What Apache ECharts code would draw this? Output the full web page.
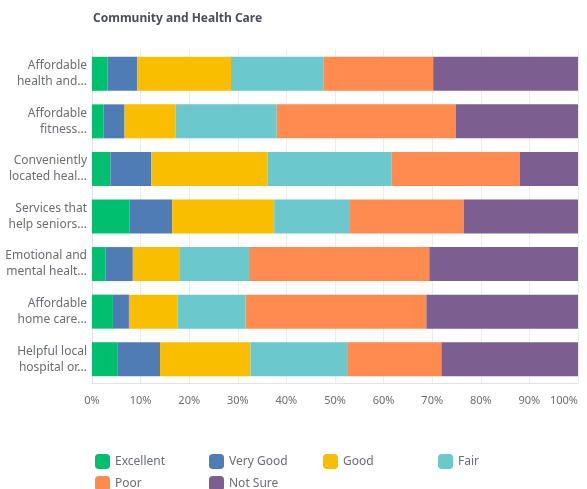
<!DOCTYPE html>
<html>
<head>
<meta charset="utf-8">
<script src="https://cdn.jsdelivr.net/npm/echarts@6/dist/echarts.min.js"></script>
<style>
  html, body { margin: 0; padding: 0; background: #fff; }
  #chart { width: 587px; height: 489px; }
</style>
</head>
<body>
<div id="chart"></div>
<script>
const categories = [
  'Affordable\nhealth and...',
  'Affordable\nfitness...',
  'Conveniently\nlocated heal...',
  'Services that\nhelp seniors...',
  'Emotional and\nmental healt...',
  'Affordable\nhome care...',
  'Helpful local\nhospital or...'
];
const seriesNames = ['Excellent', 'Very Good', 'Good', 'Fair', 'Poor', 'Not Sure'];
const excellent = [3.2, 2.4, 3.8, 7.7, 2.8, 4.3, 5.2];
const veryGood = [6.1, 4.3, 8.4, 8.8, 5.6, 3.3, 8.8];
const good = [19.3, 10.5, 23.9, 21.0, 9.7, 10.0, 18.6];
const fair = [19.0, 20.8, 25.5, 15.6, 14.2, 14.0, 19.9];
const poor = [22.6, 36.9, 26.4, 23.4, 37.1, 37.2, 19.4];
const notSure = [29.8, 25.1, 12.0, 23.5, 30.6, 31.2, 28.1];
const colors = ['#00bf6f', '#507cb6', '#f9be00', '#6bc8cd', '#ff8b4f', '#7d5e90'];

const values = [excellent, veryGood, good, fair, poor, notSure];
const font = '"Noto Sans", sans-serif';

// legend laid out as a 4-column grid, one legend per item
const legendPos = [
  [90, 449], [204, 449], [318, 449], [433, 449],
  [90, 471], [204, 471]
];

const chart = echarts.init(document.getElementById('chart'));

const option = {
  animation: false,
  textStyle: { fontFamily: font },
  title: {
    text: 'Community and Health Care',
    left: 88,
    top: 8,
    textStyle: { fontSize: 12, fontWeight: 'bold', color: '#4b4f54', fontFamily: font }
  },
  grid: { left: 92, right: 9, top: 50, bottom: 106, outerBoundsMode: 'none' },
  legend: seriesNames.map((name, i) => ({
    data: [name],
    left: legendPos[i][0],
    top: legendPos[i][1],
    itemWidth: 15,
    itemHeight: 15,
    itemGap: 6,
    icon: 'roundRect',
    textStyle: { fontSize: 12, color: '#6b6e72', fontFamily: font }
  })),
  xAxis: {
    type: 'value',
    min: 0,
    max: 100,
    interval: 10,
    axisLine: { show: true, lineStyle: { color: '#e3e3e3' } },
    axisTick: { show: false },
    axisLabel: {
      formatter: '{value}%',
      color: '#6b6e72',
      fontSize: 11,
      margin: 12,
      alignMaxLabel: 'right'
    },
    splitLine: { lineStyle: { color: '#ededed' } }
  },
  yAxis: {
    type: 'category',
    data: categories,
    inverse: true,
    axisLine: { show: true, lineStyle: { color: '#e3e3e3' } },
    axisTick: { show: false },
    axisLabel: {
      color: '#6b6e72',
      fontSize: 12,
      lineHeight: 16,
      margin: 5
    }
  },
  series: seriesNames.map((name, i) => ({
    name: name,
    type: 'bar',
    stack: 'total',
    data: values[i],
    barWidth: 34,
    itemStyle: { color: colors[i] }
  }))
};

chart.setOption(option);
</script>
</body>
</html>
